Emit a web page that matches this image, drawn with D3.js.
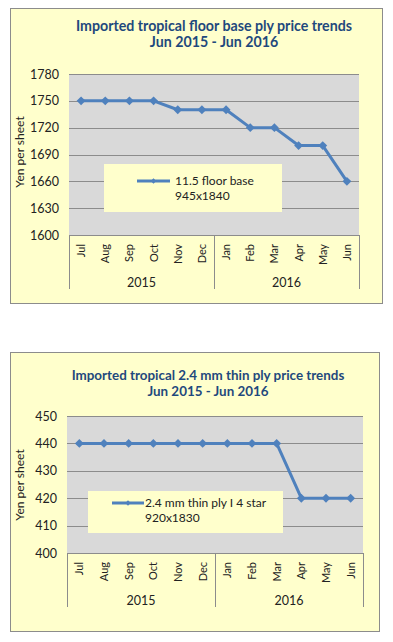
<!DOCTYPE html>
<html>
<head>
<meta charset="utf-8">
<script src="https://cdn.jsdelivr.net/npm/d3@7"></script>
<style>
  body { margin: 0; background: #fff; }
  svg text { font-family: Lato, "Open Sans", sans-serif; }
</style>
</head>
<body>
<svg id="chart" width="393" height="642"></svg>
<script>
// data
var months = ["Jul", "Aug", "Sep", "Oct", "Nov", "Dec", "Jan", "Feb", "Mar", "Apr", "May", "Jun"];
var years = [{label: "2015", from: 0, to: 6}, {label: "2016", from: 6, to: 12}];
var floorBase = [1750, 1750, 1750, 1750, 1740, 1740, 1740, 1720, 1720, 1700, 1700, 1660];
var floorTicks = [1600, 1630, 1660, 1690, 1720, 1750, 1780];
var thinPly = [440, 440, 440, 440, 440, 440, 440, 440, 440, 420, 420, 420];
var thinTicks = [400, 410, 420, 430, 440, 450];

var svg = d3.select("#chart");
var blue = "#4F81BD", titleBlue = "#1F497D";

function drawChart(c) {
	var g = svg.append("g");

	// outer box
	g.append("rect")
		.attr("x", c.box[0] + 0.5).attr("y", c.box[1] + 0.5)
		.attr("width", c.box[2]).attr("height", c.box[3])
		.attr("fill", "#FFFFCC").attr("stroke", "#8C8C8C");

	// title
	c.title.forEach(function(t, i) {
		g.append("text")
			.attr("x", c.titleX).attr("y", c.titleY + i * 16)
			.attr("text-anchor", "middle")
			.attr("font-size", c.titleSize).attr("font-weight", "bold")
			.attr("fill", titleBlue)
			.text(t);
	});

	var x = d3.scaleBand().domain(d3.range(months.length)).range([c.left, c.right]);
	var y = d3.scaleLinear().domain(d3.extent(c.ticks)).range([c.bottom, c.top]);

	// plot area
	g.append("rect")
		.attr("x", c.left).attr("y", c.top)
		.attr("width", c.right - c.left).attr("height", c.bottom - c.top)
		.attr("fill", "#D9D9D9");

	// grid lines
	g.selectAll(".grid").data(c.ticks).enter().append("line")
		.attr("x1", c.left).attr("x2", c.right)
		.attr("y1", function(d) { return Math.round(y(d)) + 0.5; })
		.attr("y2", function(d) { return Math.round(y(d)) + 0.5; })
		.attr("stroke", "#8C8C8C").attr("stroke-width", 1);

	// y axis labels
	var yAxis = d3.axisLeft(y).tickValues(c.ticks).tickFormat(d3.format("d")).tickSize(0).tickPadding(10);
	var ya = g.append("g").attr("transform", "translate(" + c.left + ",0)").call(yAxis);
	ya.select(".domain").remove();
	ya.selectAll("text").attr("font-size", 12.5).attr("fill", "#222").style("font-family", "Lato, sans-serif");

	g.append("text")
		.attr("transform", "translate(" + c.ylabX + "," + c.ylabY + ") rotate(-90)")
		.attr("text-anchor", "middle")
		.attr("font-size", 12).attr("fill", "#222")
		.text("Yen per sheet");

	// month labels
	g.selectAll(".mon").data(months).enter().append("text")
		.attr("transform", function(d, i) {
			return "translate(" + (x(i) + x.bandwidth() / 2 + 4) + "," + (c.bottom + 9) + ") rotate(-90)";
		})
		.attr("text-anchor", "end")
		.attr("font-size", 11).attr("fill", "#222")
		.text(function(d) { return d; });

	// year separators and labels
	var seps = [0].concat(years.map(function(yr) { return yr.to; }));
	g.selectAll(".sep").data(seps).enter().append("line")
		.attr("x1", function(d) { return Math.round(d < months.length ? x(d) : c.right) + 0.5; })
		.attr("x2", function(d) { return Math.round(d < months.length ? x(d) : c.right) + 0.5; })
		.attr("y1", c.bottom).attr("y2", c.sepBottom)
		.attr("stroke", "#8C8C8C");

	g.selectAll(".yr").data(years).enter().append("text")
		.attr("x", function(d) {
			var x1 = x(d.from), x2 = d.to < months.length ? x(d.to) : c.right;
			return (x1 + x2) / 2;
		})
		.attr("y", c.yearY)
		.attr("text-anchor", "middle")
		.attr("font-size", 12.5).attr("fill", "#222")
		.text(function(d) { return d.label; });

	// series line
	var line = d3.line()
		.x(function(d, i) { return x(i) + x.bandwidth() / 2; })
		.y(function(d) { return y(d); });

	g.append("path").datum(c.values)
		.attr("d", line)
		.attr("fill", "none").attr("stroke", blue)
		.attr("stroke-width", 3).attr("stroke-linejoin", "round");

	var diamond = d3.symbol().type(d3.symbolDiamond2).size(50);
	g.selectAll(".pt").data(c.values).enter().append("path")
		.attr("d", diamond)
		.attr("transform", function(d, i) {
			return "translate(" + (x(i) + x.bandwidth() / 2) + "," + y(d) + ")";
		})
		.attr("fill", blue);

	// legend
	var lg = c.legend;
	g.append("rect")
		.attr("x", lg.x).attr("y", lg.y)
		.attr("width", lg.w).attr("height", lg.h)
		.attr("fill", "#FFFFCC");
	g.append("line")
		.attr("x1", lg.lx1).attr("x2", lg.lx2)
		.attr("y1", lg.ly).attr("y2", lg.ly)
		.attr("stroke", blue).attr("stroke-width", 3);
	g.append("path")
		.attr("d", d3.symbol().type(d3.symbolDiamond2).size(18))
		.attr("transform", "translate(" + ((lg.lx1 + lg.lx2) / 2) + "," + lg.ly + ")")
		.attr("fill", blue);
	lg.text.forEach(function(t, i) {
		g.append("text")
			.attr("x", lg.tx).attr("y", lg.ly + 4 + i * 15)
			.attr("font-size", 12).attr("fill", "#222")
			.text(t);
	});
}

drawChart({
	box: [10, 8, 372, 295],
	title: ["Imported tropical floor base ply price trends", "Jun 2015 - Jun 2016"],
	titleX: 214, titleY: 31, titleSize: 14.2,
	left: 69, right: 359, top: 74, bottom: 235,
	ticks: floorTicks, values: floorBase,
	ylabX: 24, ylabY: 152,
	sepBottom: 289, yearY: 287,
	legend: {x: 104, y: 164, w: 178, h: 48, lx1: 137, lx2: 170, ly: 181, tx: 175,
		text: ["11.5 floor base", "945x1840"]}
});

drawChart({
	box: [10, 352, 369, 279],
	title: ["Imported tropical 2.4 mm thin ply price trends", "Jun 2015 - Jun 2016"],
	titleX: 208, titleY: 380, titleSize: 13.4,
	left: 67, right: 363, top: 416, bottom: 553,
	ticks: thinTicks, values: thinPly,
	ylabX: 24, ylabY: 485,
	sepBottom: 607, yearY: 605,
	legend: {x: 88, y: 491, w: 195, h: 42, lx1: 112, lx2: 144, ly: 503, tx: 145,
		text: ["2.4 mm thin ply I 4 star", "920x1830"]}
});
</script>
</body>
</html>
